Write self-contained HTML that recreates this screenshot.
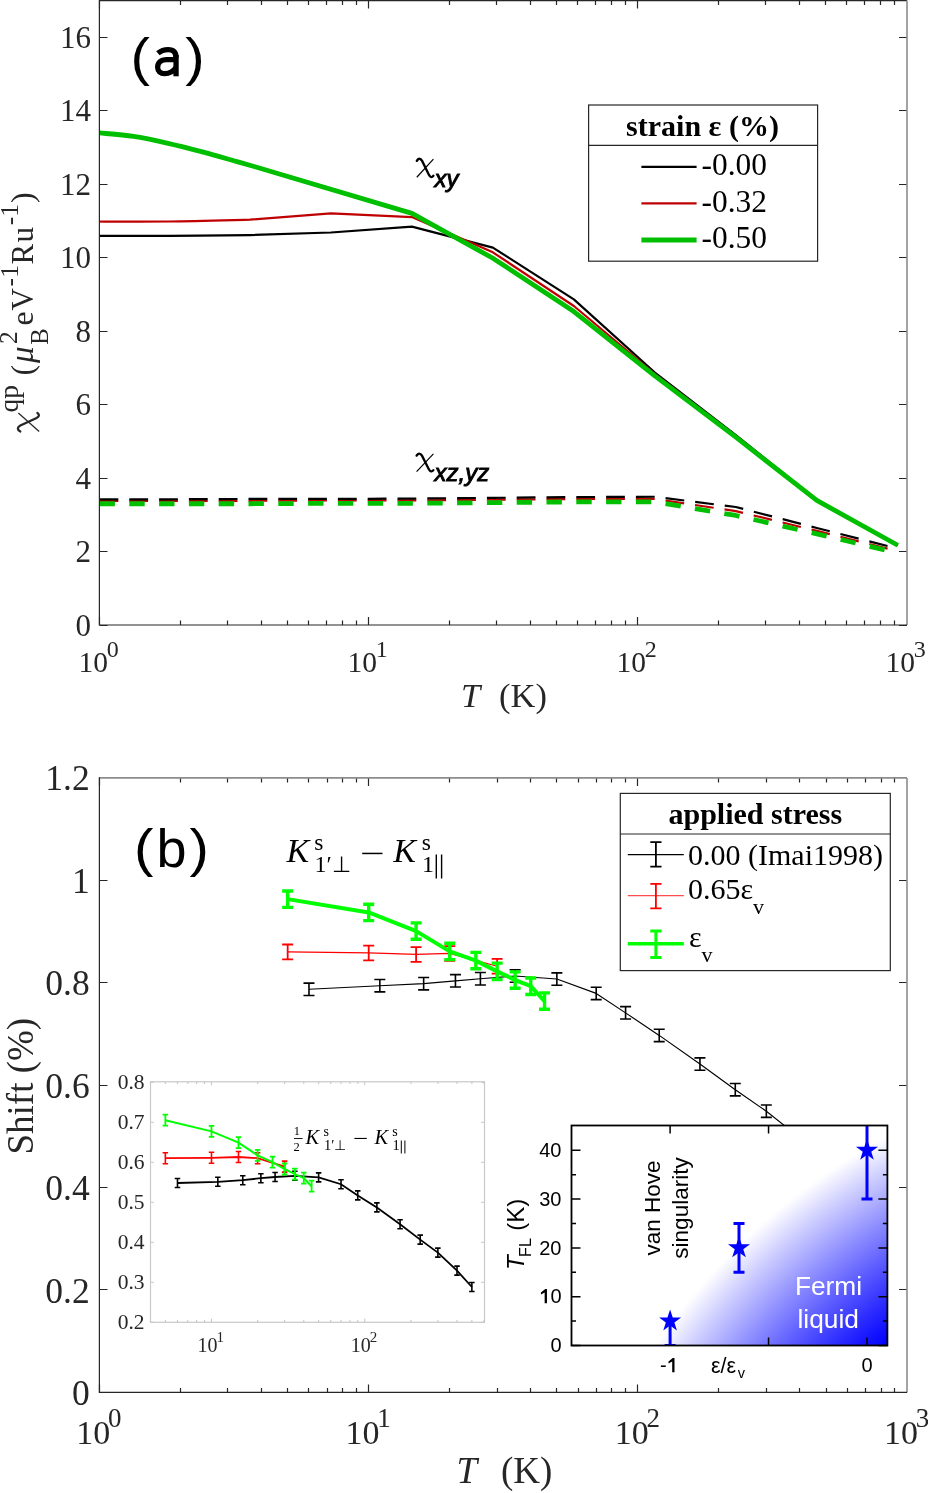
<!DOCTYPE html><html><head><meta charset="utf-8"><style>html,body{margin:0;padding:0;background:#fff;width:928px;height:1493px;overflow:hidden}svg{will-change:transform}</style></head><body><svg width="928" height="1493" viewBox="0 0 928 1493" style="display:block">
<defs>
<clipPath id="ca"><rect x="99.5" y="0.6" width="807.5" height="624.4"/></clipPath>
<clipPath id="cb"><rect x="99.5" y="777.9" width="807.5" height="614.5000000000001"/></clipPath>
<clipPath id="cr"><rect x="571.5" y="1125.5" width="315.9" height="220.0"/></clipPath>
<radialGradient id="gr" gradientUnits="userSpaceOnUse" cx="1194.1" cy="1709.3" r="650.3"><stop offset="0.7317" stop-color="rgb(0,0,255)"/><stop offset="0.7585" stop-color="rgb(20,20,255)"/><stop offset="0.7853" stop-color="rgb(43,43,255)"/><stop offset="0.8122" stop-color="rgb(68,68,255)"/><stop offset="0.8390" stop-color="rgb(93,93,255)"/><stop offset="0.8658" stop-color="rgb(119,119,255)"/><stop offset="0.8927" stop-color="rgb(145,145,255)"/><stop offset="0.9195" stop-color="rgb(172,172,255)"/><stop offset="0.9463" stop-color="rgb(199,199,255)"/><stop offset="0.9732" stop-color="rgb(227,227,255)"/><stop offset="1.0000" stop-color="rgb(255,255,255)"/></radialGradient>
</defs>
<rect width="928" height="1493" fill="#fff"/>
<g clip-path="url(#ca)" fill="none" stroke-linejoin="round">
<path d="M99.50,500.79L168.98,500.79L249.95,500.79L330.93,500.42L411.91,500.42L492.89,499.68L573.86,498.95L654.84,498.95L735.82,511.07L816.79,530.92L897.77,551.13" stroke="#bf0000" stroke-width="2.2" stroke-dasharray="18.8 11"/>
<path d="M99.50,503.73L168.98,503.73L249.95,503.73L330.93,503.36L411.91,503.36L492.89,502.62L573.86,501.89L654.84,501.89L735.82,515.49L816.79,533.86L897.77,552.97" stroke="#00bf00" stroke-width="4.8" stroke-dasharray="15.4 14.4"/>
<path d="M99.50,499.31L168.98,499.31L249.95,498.95L330.93,498.95L411.91,498.58L492.89,497.85L573.86,497.11L654.84,496.74L735.82,507.03L816.79,527.98L897.77,548.56" stroke="#000" stroke-width="2.2" stroke-dasharray="18.8 11"/>
<path d="M88.00,235.82C101.50,235.82 141.98,235.94 168.98,235.82C195.97,235.69 236.46,235.21 249.95,235.08L330.93,232.51L411.91,226.63L492.89,247.58L573.86,299.40L654.84,372.53L735.82,435.00L816.79,500.42L897.77,545.25" stroke="#000" stroke-width="2.2"/>
<path d="M88.00,221.48C101.50,221.48 141.98,221.79 168.98,221.48C195.97,221.18 236.46,219.95 249.95,219.65L330.93,213.40L411.91,217.07L492.89,252.35L573.86,306.01L654.84,374.00L735.82,436.47L816.79,500.42L897.77,545.25" stroke="#bf0000" stroke-width="2.2"/>
<path d="M86.00,131.90C88.25,132.07 91.58,132.15 99.50,132.90C107.42,133.65 122.08,134.67 133.50,136.40C144.92,138.13 156.52,140.72 168.00,143.30C179.48,145.88 190.90,148.85 202.40,151.90C213.90,154.95 228.23,159.13 237.00,161.60C245.77,164.07 252.00,165.85 255.00,166.70L411.91,213.40L492.89,258.23L573.86,311.52L654.84,375.83L735.82,437.21L816.79,500.42L897.77,545.25" stroke="#00bf00" stroke-width="4.8"/>
</g>
<path d="M99.50,625v-8M99.50,0.6v8M180.50,625v-4.5M180.50,0.6v4.5M227.50,625v-4.5M227.50,0.6v4.5M261.50,625v-4.5M261.50,0.6v4.5M287.50,625v-4.5M287.50,0.6v4.5M308.50,625v-4.5M308.50,0.6v4.5M326.50,625v-4.5M326.50,0.6v4.5M342.50,625v-4.5M342.50,0.6v4.5M356.50,625v-4.5M356.50,0.6v4.5M368.50,625v-8M368.50,0.6v8M449.50,625v-4.5M449.50,0.6v4.5M496.50,625v-4.5M496.50,0.6v4.5M530.50,625v-4.5M530.50,0.6v4.5M556.50,625v-4.5M556.50,0.6v4.5M577.50,625v-4.5M577.50,0.6v4.5M595.50,625v-4.5M595.50,0.6v4.5M611.50,625v-4.5M611.50,0.6v4.5M625.50,625v-4.5M625.50,0.6v4.5M637.50,625v-8M637.50,0.6v8M718.50,625v-4.5M718.50,0.6v4.5M765.50,625v-4.5M765.50,0.6v4.5M799.50,625v-4.5M799.50,0.6v4.5M825.50,625v-4.5M825.50,0.6v4.5M846.50,625v-4.5M846.50,0.6v4.5M864.50,625v-4.5M864.50,0.6v4.5M880.50,625v-4.5M880.50,0.6v4.5M894.50,625v-4.5M894.50,0.6v4.5M99.5,625.50h8M907,625.50h-8M99.5,551.50h8M907,551.50h-8M99.5,478.50h8M907,478.50h-8M99.5,404.50h8M907,404.50h-8M99.5,331.50h8M907,331.50h-8M99.5,257.50h8M907,257.50h-8M99.5,184.50h8M907,184.50h-8M99.5,110.50h8M907,110.50h-8M99.5,37.50h8M907,37.50h-8" stroke="#262626" stroke-width="1.2" fill="none"/>
<path d="M99.5,0.6H907" stroke="#262626" stroke-width="1.3"/>
<path d="M907,0.6V625" stroke="#8c8c8c" stroke-width="1.6"/>
<path d="M99.4,0.0V625H907" stroke="#262626" stroke-width="1.2" fill="none"/>
<text x="91" y="635.9" font-family="Liberation Serif" font-size="31" text-anchor="end" fill="#262626">0</text>
<text x="91" y="562.4" font-family="Liberation Serif" font-size="31" text-anchor="end" fill="#262626">2</text>
<text x="91" y="488.9" font-family="Liberation Serif" font-size="31" text-anchor="end" fill="#262626">4</text>
<text x="91" y="415.4" font-family="Liberation Serif" font-size="31" text-anchor="end" fill="#262626">6</text>
<text x="91" y="341.9" font-family="Liberation Serif" font-size="31" text-anchor="end" fill="#262626">8</text>
<text x="91" y="268.4" font-family="Liberation Serif" font-size="31" text-anchor="end" fill="#262626">10</text>
<text x="91" y="194.9" font-family="Liberation Serif" font-size="31" text-anchor="end" fill="#262626">12</text>
<text x="91" y="121.4" font-family="Liberation Serif" font-size="31" text-anchor="end" fill="#262626">14</text>
<text x="91" y="47.9" font-family="Liberation Serif" font-size="31" text-anchor="end" fill="#262626">16</text>
<text x="78.5" y="672" font-family="Liberation Serif" font-size="29.5" fill="#262626">10</text>
<text x="106.7" y="657" font-family="Liberation Serif" font-size="24" fill="#262626">0</text>
<text x="347.5" y="672" font-family="Liberation Serif" font-size="29.5" fill="#262626">10</text>
<text x="375.7" y="657" font-family="Liberation Serif" font-size="24" fill="#262626">1</text>
<text x="616.5" y="672" font-family="Liberation Serif" font-size="29.5" fill="#262626">10</text>
<text x="644.7" y="657" font-family="Liberation Serif" font-size="24" fill="#262626">2</text>
<text x="885.5" y="672" font-family="Liberation Serif" font-size="29.5" fill="#262626">10</text>
<text x="913.7" y="657" font-family="Liberation Serif" font-size="24" fill="#262626">3</text>
<text x="461" y="707" font-family="Liberation Serif" font-size="34.5" font-style="italic" fill="#262626">T</text>
<text x="499" y="707" font-family="Liberation Serif" font-size="34.5" fill="#262626">(K)</text>
<text font-family="Liberation Sans" font-size="52.5" fill="#000" transform="translate(130.4,74.7) scale(1.11,1)">(</text>
<text font-family="Liberation Sans" font-size="52.5" fill="#000" transform="translate(185.3,74.7) scale(1.11,1)">)</text>
<g fill="none" stroke="#000" stroke-width="5.3"><path d="M176.05,55V76.3"/><path d="M157.9,53.3C160.8,50.8 164.2,49.55 168.2,49.55C173.5,49.55 176.05,52 176.05,57.5"/><path d="M176.05,59.6H166.8C160.8,59.6 157.65,62.8 157.65,67.2C157.65,71.3 160.5,73.65 164.6,73.65C169.3,73.65 173.3,71.6 176.05,67.5"/></g>
<path d="M416.80,160.88C418.13,158.22 420.45,157.84 422.11,160.88L428.75,174.56C430.08,177.22 431.74,177.98 433.40,175.70" stroke="#000" stroke-width="2.3" fill="none" stroke-linecap="round"/><path d="M433.40,159.17L416.80,177.22" stroke="#000" stroke-width="1.2" fill="none"/>
<text x="434.5" y="187" font-family="Liberation Sans" font-size="24" font-style="italic" fill="#000" stroke="#000" stroke-width="0.9">xy</text>
<path d="M416.60,455.63C417.94,453.03 420.30,452.66 421.98,455.63L428.70,469.02C430.04,471.63 431.72,472.37 433.40,470.14" stroke="#000" stroke-width="2.3" fill="none" stroke-linecap="round"/><path d="M433.40,453.96L416.60,471.63" stroke="#000" stroke-width="1.2" fill="none"/>
<text x="434.5" y="481" font-family="Liberation Sans" font-size="24" font-style="italic" fill="#000" stroke="#000" stroke-width="0.9">xz,yz</text>
<g transform="translate(33,432) rotate(-90)" fill="#262626">
<path d="M0.50,-12.67C1.98,-15.74 4.57,-16.18 6.42,-12.67L13.82,3.10C15.30,6.16 17.15,7.04 19.00,4.41" stroke="#262626" stroke-width="2.3" fill="none" stroke-linecap="round"/><path d="M19.00,-14.64L0.50,6.16" stroke="#262626" stroke-width="1.2" fill="none"/>
<text x="19.5" y="-15.5" font-family="Liberation Serif" font-size="27.5">qp</text>
<text x="56.5" y="0" font-family="Liberation Serif" font-size="32">(</text>
<text x="69" y="0" font-family="Liberation Serif" font-size="33" font-style="italic">μ</text>
<text x="88" y="-16" font-family="Liberation Serif" font-size="25.5">2</text>
<text x="87.3" y="14.7" font-family="Liberation Serif" font-size="24.5">B</text>
<text x="106.5" y="0" font-family="Liberation Serif" font-size="32">e</text>
<text x="121.5" y="0" font-family="Liberation Serif" font-size="31">V</text>
<text x="145.6" y="-15.4" font-family="Liberation Serif" font-size="25">-</text>
<text x="154.2" y="-15.4" font-family="Liberation Serif" font-size="25.5">1</text>
<text x="167.5" y="0" font-family="Liberation Serif" font-size="31">R</text>
<text x="189.5" y="0" font-family="Liberation Serif" font-size="31">u</text>
<text x="206.8" y="-15.4" font-family="Liberation Serif" font-size="25">-</text>
<text x="215.3" y="-15.4" font-family="Liberation Serif" font-size="25.5">1</text>
<text x="229" y="0" font-family="Liberation Serif" font-size="32">)</text>
</g>
<rect x="588.6" y="105" width="229" height="156.2" fill="#fff" stroke="#262626" stroke-width="1.2"/>
<line x1="588.6" y1="145.4" x2="817.6" y2="145.4" stroke="#262626" stroke-width="1.2"/>
<text x="702.5" y="136" font-family="Liberation Serif" font-size="30" font-weight="bold" text-anchor="middle" fill="#000">strain ε (%)</text>
<line x1="641.4" y1="166.9" x2="696.6" y2="166.9" stroke="#000" stroke-width="2.2"/>
<text x="701.5" y="175.2" font-family="Liberation Serif" font-size="31.4" fill="#000">-0.00</text>
<line x1="641.4" y1="203.4" x2="696.6" y2="203.4" stroke="#bf0000" stroke-width="2.2"/>
<text x="701.5" y="211.8" font-family="Liberation Serif" font-size="31.4" fill="#000">-0.32</text>
<line x1="641.4" y1="240.0" x2="696.6" y2="240.0" stroke="#00bf00" stroke-width="4.8"/>
<text x="701.5" y="248.3" font-family="Liberation Serif" font-size="31.4" fill="#000">-0.50</text>
<g clip-path="url(#cb)" fill="none" stroke-linejoin="round">
<polyline points="308.98,989.30 379.84,985.71 423.65,983.66 455.44,980.85 480.41,978.75 515.16,975.98 556.86,979.05 596.20,993.40 625.58,1012.86 659.22,1035.40 699.94,1064.08 735.28,1089.69 766.34,1111.20 799.97,1137.84 826.06,1164.47" stroke="#000" stroke-width="1.15"/>
<path d="M308.98,983.10V995.50M303.48,983.10h11M303.48,995.50h11M379.84,979.51V991.91M374.34,979.51h11M374.34,991.91h11M423.65,977.46V989.86M418.15,977.46h11M418.15,989.86h11M455.44,974.65V987.05M449.94,974.65h11M449.94,987.05h11M480.41,972.55V984.95M474.91,972.55h11M474.91,984.95h11M515.16,969.78V982.18M509.66,969.78h11M509.66,982.18h11M556.86,972.85V985.25M551.36,972.85h11M551.36,985.25h11M596.20,987.20V999.60M590.70,987.20h11M590.70,999.60h11M625.58,1006.66V1019.06M620.08,1006.66h11M620.08,1019.06h11M659.22,1029.20V1041.60M653.72,1029.20h11M653.72,1041.60h11M699.94,1057.88V1070.28M694.44,1057.88h11M694.44,1070.28h11M735.28,1083.49V1095.89M729.78,1083.49h11M729.78,1095.89h11M766.34,1105.00V1117.40M760.84,1105.00h11M760.84,1117.40h11M799.97,1131.64V1144.04M794.47,1131.64h11M794.47,1144.04h11M826.06,1158.27V1170.67M820.56,1158.27h11M820.56,1170.67h11" stroke="#000" stroke-width="1.6" fill="none"/>
<polyline points="287.66,951.91 368.70,952.93 416.10,954.47 449.74,953.44 497.14,966.25" stroke="#ff0000" stroke-width="1.2"/>
<path d="M287.66,944.51V959.31M282.16,944.51h11M282.16,959.31h11M368.70,945.53V960.33M363.20,945.53h11M363.20,960.33h11M416.10,947.07V961.87M410.60,947.07h11M410.60,961.87h11M449.74,946.04V960.84M444.24,946.04h11M444.24,960.84h11M497.14,958.85V973.65M491.64,958.85h11M491.64,973.65h11" stroke="#ff0000" stroke-width="1.8" fill="none"/>
<polyline points="287.66,899.15 368.70,912.47 416.10,931.11 449.74,951.40 475.83,960.62 497.14,971.37 515.16,980.08 530.77,986.23 544.54,1001.08" stroke="#00ff00" stroke-width="4"/>
<path d="M287.66,890.95V907.35M282.16,890.95h11M282.16,907.35h11M368.70,904.27V920.67M363.20,904.27h11M363.20,920.67h11M416.10,922.91V939.31M410.60,922.91h11M410.60,939.31h11M449.74,943.20V959.60M444.24,943.20h11M444.24,959.60h11M475.83,952.42V968.82M470.33,952.42h11M470.33,968.82h11M497.14,963.17V979.57M491.64,963.17h11M491.64,979.57h11M515.16,971.88V988.28M509.66,971.88h11M509.66,988.28h11M530.77,978.03V994.43M525.27,978.03h11M525.27,994.43h11M544.54,992.88V1009.28M539.04,992.88h11M539.04,1009.28h11" stroke="#00ff00" stroke-width="3.4" fill="none"/>
</g>
<path d="M99.50,1392.4v-8M99.50,777.9v8M180.50,1392.4v-4.5M180.50,777.9v4.5M227.50,1392.4v-4.5M227.50,777.9v4.5M261.50,1392.4v-4.5M261.50,777.9v4.5M287.50,1392.4v-4.5M287.50,777.9v4.5M308.50,1392.4v-4.5M308.50,777.9v4.5M327.50,1392.4v-4.5M327.50,777.9v4.5M342.50,1392.4v-4.5M342.50,777.9v4.5M356.50,1392.4v-4.5M356.50,777.9v4.5M368.50,1392.4v-8M368.50,777.9v8M449.50,1392.4v-4.5M449.50,777.9v4.5M497.50,1392.4v-4.5M497.50,777.9v4.5M530.50,1392.4v-4.5M530.50,777.9v4.5M556.50,1392.4v-4.5M556.50,777.9v4.5M578.50,1392.4v-4.5M578.50,777.9v4.5M596.50,1392.4v-4.5M596.50,777.9v4.5M611.50,1392.4v-4.5M611.50,777.9v4.5M625.50,1392.4v-4.5M625.50,777.9v4.5M637.50,1392.4v-8M637.50,777.9v8M718.50,1392.4v-4.5M718.50,777.9v4.5M766.50,1392.4v-4.5M766.50,777.9v4.5M799.50,1392.4v-4.5M799.50,777.9v4.5M826.50,1392.4v-4.5M826.50,777.9v4.5M847.50,1392.4v-4.5M847.50,777.9v4.5M865.50,1392.4v-4.5M865.50,777.9v4.5M881.50,1392.4v-4.5M881.50,777.9v4.5M894.50,1392.4v-4.5M894.50,777.9v4.5M99.5,1392.50h8M907,1392.50h-8M99.5,1289.50h8M907,1289.50h-8M99.5,1187.50h8M907,1187.50h-8M99.5,1085.50h8M907,1085.50h-8M99.5,982.50h8M907,982.50h-8M99.5,880.50h8M907,880.50h-8M99.5,777.50h8M907,777.50h-8" stroke="#262626" stroke-width="1.2" fill="none"/>
<path d="M99.5,777.9H907" stroke="#8c8c8c" stroke-width="1.6"/>
<path d="M907,777.9V1392.4" stroke="#8c8c8c" stroke-width="1.6"/>
<path d="M99.4,777.3V1392.4H907" stroke="#262626" stroke-width="1.2" fill="none"/>
<text x="89.7" y="1405.0" font-family="Liberation Serif" font-size="35.5" text-anchor="end" fill="#262626">0</text>
<text x="89.7" y="1302.6" font-family="Liberation Serif" font-size="35.5" text-anchor="end" fill="#262626">0.2</text>
<text x="89.7" y="1200.1" font-family="Liberation Serif" font-size="35.5" text-anchor="end" fill="#262626">0.4</text>
<text x="89.7" y="1097.7" font-family="Liberation Serif" font-size="35.5" text-anchor="end" fill="#262626">0.6</text>
<text x="89.7" y="995.2" font-family="Liberation Serif" font-size="35.5" text-anchor="end" fill="#262626">0.8</text>
<text x="89.7" y="892.8" font-family="Liberation Serif" font-size="35.5" text-anchor="end" fill="#262626">1</text>
<text x="89.7" y="790.4" font-family="Liberation Serif" font-size="35.5" text-anchor="end" fill="#262626">1.2</text>
<text x="76.3" y="1444.2" font-family="Liberation Serif" font-size="34" fill="#262626">10</text>
<text x="108.1" y="1427.2" font-family="Liberation Serif" font-size="27" fill="#262626">0</text>
<text x="345.5" y="1444.2" font-family="Liberation Serif" font-size="34" fill="#262626">10</text>
<text x="377.3" y="1427.2" font-family="Liberation Serif" font-size="27" fill="#262626">1</text>
<text x="614.7" y="1444.2" font-family="Liberation Serif" font-size="34" fill="#262626">10</text>
<text x="646.5" y="1427.2" font-family="Liberation Serif" font-size="27" fill="#262626">2</text>
<text x="883.9" y="1444.2" font-family="Liberation Serif" font-size="34" fill="#262626">10</text>
<text x="915.7" y="1427.2" font-family="Liberation Serif" font-size="27" fill="#262626">3</text>
<text x="456.5" y="1483" font-family="Liberation Serif" font-size="37" font-style="italic" fill="#262626">T</text>
<text x="501" y="1483" font-family="Liberation Serif" font-size="37" fill="#262626">(K)</text>
<text font-family="Liberation Sans" font-size="52.5" fill="#000" transform="translate(134,866.1) scale(1.11,1)">(</text>
<text font-family="Liberation Sans" font-size="52.5" fill="#000" transform="translate(189.6,866.1) scale(1.11,1)">)</text>
<text x="156.4" y="867.2" font-family="Liberation Sans" font-size="54" fill="#000">b</text>
<g transform="translate(33,1154.5) rotate(-90)"><text font-family="Liberation Serif" font-size="37" fill="#262626">Shift (%)</text></g>
<text x="286.6" y="861.6" font-family="Liberation Serif" font-size="34" font-style="italic" fill="#000">K</text>
<text x="314.3" y="850.2" font-family="Liberation Serif" font-size="23.5" fill="#000">s</text>
<text x="314.6" y="871.7" font-family="Liberation Serif" font-size="24" fill="#000">1′</text>
<text x="331.6" y="871.7" font-family="Liberation Serif" font-size="22" fill="#000">⊥</text>
<rect x="362.2" y="852.7" width="20.3" height="1.5" fill="#000"/>
<text x="393.3" y="861.6" font-family="Liberation Serif" font-size="34" font-style="italic" fill="#000">K</text>
<text x="421.8" y="850.2" font-family="Liberation Serif" font-size="23.5" fill="#000">s</text>
<text x="421.9" y="871.7" font-family="Liberation Serif" font-size="24" fill="#000">1</text>
<path d="M436.3,854.5V878.6M441.6,854.5V878.6" stroke="#000" stroke-width="1.4"/>
<rect x="620.3" y="793.4" width="270" height="177.2" fill="#fff" stroke="#262626" stroke-width="1.2"/>
<line x1="620.3" y1="834" x2="890.3" y2="834" stroke="#262626" stroke-width="1.2"/>
<text x="755.3" y="823.8" font-family="Liberation Serif" font-size="30" font-weight="bold" text-anchor="middle" fill="#000">applied stress</text>
<line x1="627.8" y1="854.7" x2="683.8" y2="854.7" stroke="#000" stroke-width="1.3"/>
<path d="M655.9,842.1V866.7M650.3,842.1h11.2M650.3,866.7h11.2" stroke="#000" stroke-width="1.8" fill="none"/>
<text x="688" y="865.3" font-family="Liberation Serif" font-size="30" fill="#000">0.00 (Imai1998)</text>
<line x1="627.8" y1="895.7" x2="683.8" y2="895.7" stroke="#ff0000" stroke-width="1.2" stroke-opacity="0.7"/>
<path d="M655.9,883.8V908.4M650.3,883.8h11.2M650.3,908.4h11.2" stroke="#ff0000" stroke-width="1.8" fill="none"/>
<text x="688" y="899.3" font-family="Liberation Serif" font-size="30" fill="#000">0.65ε<tspan font-size="22" dy="14.3">v</tspan></text>
<line x1="627.8" y1="943.8" x2="683.8" y2="943.8" stroke="#00ff00" stroke-width="3.6"/>
<path d="M655.9,930.9V957.6M650.3,930.9h11.2M650.3,957.6h11.2" stroke="#00ff00" stroke-width="3" fill="none"/>
<text x="689" y="947.2" font-family="Liberation Serif" font-size="30" fill="#000">ε<tspan font-size="22" dy="14.5">v</tspan></text>
<rect x="150.5" y="1081.8" width="334.0" height="240.5" fill="#fff" stroke="#c8c8c8" stroke-width="1.2"/>
<path d="M150.50,1322.3v-2.3M150.50,1081.8v2.3M165.35,1322.3v-2.3M165.35,1081.8v2.3M177.49,1322.3v-2.3M177.49,1081.8v2.3M187.75,1322.3v-2.3M187.75,1081.8v2.3M196.64,1322.3v-2.3M196.64,1081.8v2.3M204.48,1322.3v-2.3M204.48,1081.8v2.3M211.49,1322.3v-3.5M211.49,1081.8v3.5M257.62,1322.3v-2.3M257.62,1081.8v2.3M284.61,1322.3v-2.3M284.61,1081.8v2.3M303.76,1322.3v-2.3M303.76,1081.8v2.3M318.61,1322.3v-2.3M318.61,1081.8v2.3M330.75,1322.3v-2.3M330.75,1081.8v2.3M341.01,1322.3v-2.3M341.01,1081.8v2.3M349.90,1322.3v-2.3M349.90,1081.8v2.3M357.74,1322.3v-2.3M357.74,1081.8v2.3M364.75,1322.3v-3.5M364.75,1081.8v3.5M410.88,1322.3v-2.3M410.88,1081.8v2.3M437.87,1322.3v-2.3M437.87,1081.8v2.3M457.02,1322.3v-2.3M457.02,1081.8v2.3M471.87,1322.3v-2.3M471.87,1081.8v2.3M484.01,1322.3v-2.3M484.01,1081.8v2.3M150.5,1322.20h3.5M484.5,1322.20h-3.5M150.5,1282.20h3.5M484.5,1282.20h-3.5M150.5,1242.20h3.5M484.5,1242.20h-3.5M150.5,1202.20h3.5M484.5,1202.20h-3.5M150.5,1162.20h3.5M484.5,1162.20h-3.5M150.5,1122.20h3.5M484.5,1122.20h-3.5M150.5,1082.20h3.5M484.5,1082.20h-3.5" stroke="#c8c8c8" stroke-width="1.1" fill="none"/>
<text x="144.5" y="1329.2" font-family="Liberation Serif" font-size="21.5" text-anchor="end" fill="#262626">0.2</text>
<text x="144.5" y="1289.2" font-family="Liberation Serif" font-size="21.5" text-anchor="end" fill="#262626">0.3</text>
<text x="144.5" y="1249.2" font-family="Liberation Serif" font-size="21.5" text-anchor="end" fill="#262626">0.4</text>
<text x="144.5" y="1209.2" font-family="Liberation Serif" font-size="21.5" text-anchor="end" fill="#262626">0.5</text>
<text x="144.5" y="1169.2" font-family="Liberation Serif" font-size="21.5" text-anchor="end" fill="#262626">0.6</text>
<text x="144.5" y="1129.2" font-family="Liberation Serif" font-size="21.5" text-anchor="end" fill="#262626">0.7</text>
<text x="144.5" y="1089.2" font-family="Liberation Serif" font-size="21.5" text-anchor="end" fill="#262626">0.8</text>
<text x="197.5" y="1352.2" font-family="Liberation Serif" font-size="20" fill="#262626">10</text>
<text x="216.5" y="1342" font-family="Liberation Serif" font-size="15" fill="#262626">1</text>
<text x="350.7" y="1352.2" font-family="Liberation Serif" font-size="20" fill="#262626">10</text>
<text x="369.7" y="1342" font-family="Liberation Serif" font-size="15" fill="#262626">2</text>
<polyline points="177.49,1183.00 217.83,1181.80 242.77,1180.20 260.87,1178.20 275.09,1177.00 294.87,1175.80 318.61,1177.40 341.01,1184.20 357.74,1195.40 376.88,1207.40 400.07,1224.20 420.19,1239.60 437.87,1252.60 457.02,1270.60 471.87,1287.00" stroke="#000" stroke-width="1.8" fill="none"/>
<path d="M177.49,1178.50V1187.50M174.74,1178.50h5.5M174.74,1187.50h5.5M217.83,1177.30V1186.30M215.08,1177.30h5.5M215.08,1186.30h5.5M242.77,1175.70V1184.70M240.02,1175.70h5.5M240.02,1184.70h5.5M260.87,1173.70V1182.70M258.12,1173.70h5.5M258.12,1182.70h5.5M275.09,1172.50V1181.50M272.34,1172.50h5.5M272.34,1181.50h5.5M294.87,1171.30V1180.30M292.12,1171.30h5.5M292.12,1180.30h5.5M318.61,1172.90V1181.90M315.86,1172.90h5.5M315.86,1181.90h5.5M341.01,1179.70V1188.70M338.26,1179.70h5.5M338.26,1188.70h5.5M357.74,1190.90V1199.90M354.99,1190.90h5.5M354.99,1199.90h5.5M376.88,1202.90V1211.90M374.13,1202.90h5.5M374.13,1211.90h5.5M400.07,1219.70V1228.70M397.32,1219.70h5.5M397.32,1228.70h5.5M420.19,1235.10V1244.10M417.44,1235.10h5.5M417.44,1244.10h5.5M437.87,1248.10V1257.10M435.12,1248.10h5.5M435.12,1257.10h5.5M457.02,1266.10V1275.10M454.27,1266.10h5.5M454.27,1275.10h5.5M471.87,1282.50V1291.50M469.12,1282.50h5.5M469.12,1291.50h5.5" stroke="#000" stroke-width="1.6" fill="none"/>
<polyline points="165.35,1158.20 211.49,1157.80 238.48,1157.00 257.62,1158.20 284.61,1166.60" stroke="#ff0000" stroke-width="1.8" fill="none"/>
<path d="M165.35,1152.70V1163.70M162.60,1152.70h5.5M162.60,1163.70h5.5M211.49,1152.30V1163.30M208.74,1152.30h5.5M208.74,1163.30h5.5M238.48,1151.50V1162.50M235.73,1151.50h5.5M235.73,1162.50h5.5M257.62,1152.70V1163.70M254.87,1152.70h5.5M254.87,1163.70h5.5M284.61,1161.10V1172.10M281.86,1161.10h5.5M281.86,1172.10h5.5" stroke="#ff0000" stroke-width="1.6" fill="none"/>
<polyline points="165.35,1120.20 211.49,1131.40 238.48,1142.60 257.62,1155.40 272.48,1162.20 284.61,1169.00 294.87,1174.20 303.76,1178.20 311.60,1186.20" stroke="#00ff00" stroke-width="2" fill="none"/>
<path d="M165.35,1114.70V1125.70M162.60,1114.70h5.5M162.60,1125.70h5.5M211.49,1125.90V1136.90M208.74,1125.90h5.5M208.74,1136.90h5.5M238.48,1137.10V1148.10M235.73,1137.10h5.5M235.73,1148.10h5.5M257.62,1149.90V1160.90M254.87,1149.90h5.5M254.87,1160.90h5.5M272.48,1156.70V1167.70M269.73,1156.70h5.5M269.73,1167.70h5.5M284.61,1163.50V1174.50M281.86,1163.50h5.5M281.86,1174.50h5.5M294.87,1168.70V1179.70M292.12,1168.70h5.5M292.12,1179.70h5.5M303.76,1172.70V1183.70M301.01,1172.70h5.5M301.01,1183.70h5.5M311.60,1180.70V1191.70M308.85,1180.70h5.5M308.85,1191.70h5.5" stroke="#00ff00" stroke-width="1.8" fill="none"/>
<text x="293.8" y="1134.8" font-family="Liberation Serif" font-size="12.5" fill="#000">1</text>
<text x="293.6" y="1150.7" font-family="Liberation Serif" font-size="12.5" fill="#000">2</text>
<rect x="294" y="1138" width="8.6" height="0.9" fill="#000"/>
<text x="305.6" y="1143.6" font-family="Liberation Serif" font-size="20.5" font-style="italic" fill="#000">K</text>
<text x="323.6" y="1136.2" font-family="Liberation Serif" font-size="14" fill="#000">s</text>
<text x="323.9" y="1149.7" font-family="Liberation Serif" font-size="14.5" fill="#000">1′</text>
<text x="334" y="1149.7" font-family="Liberation Serif" font-size="13.5" fill="#000">⊥</text>
<rect x="354.4" y="1137.9" width="12.4" height="1.1" fill="#000"/>
<text x="374.4" y="1143.6" font-family="Liberation Serif" font-size="20.5" font-style="italic" fill="#000">K</text>
<text x="392.3" y="1136.2" font-family="Liberation Serif" font-size="14" fill="#000">s</text>
<text x="392.6" y="1149.7" font-family="Liberation Serif" font-size="14.5" fill="#000">1</text>
<path d="M401.3,1140.5V1153.5M404.9,1140.5V1153.5" stroke="#000" stroke-width="1"/>
<rect x="571.5" y="1125.5" width="315.9" height="220.0" fill="#fff"/>
<rect x="571.5" y="1125.5" width="315.9" height="220.0" fill="url(#gr)"/>
<text font-family="Liberation Sans" font-size="22.5" fill="#000" transform="translate(660,1208) rotate(-90)" text-anchor="middle">van Hove</text>
<text font-family="Liberation Sans" font-size="22.5" fill="#000" transform="translate(688,1208) rotate(-90)" text-anchor="middle">singularity</text>
<text x="828.5" y="1295.3" font-family="Liberation Sans" font-size="26.3" fill="#fff" text-anchor="middle">Fermi</text>
<text x="828.2" y="1327.9" font-family="Liberation Sans" font-size="26.3" fill="#fff" text-anchor="middle">liquid</text>
<path d="M571.5,1345.50h9M887.4,1345.50h-9M571.5,1321.10h4.5M887.4,1321.10h-4.5M571.5,1296.70h9M887.4,1296.70h-9M571.5,1272.30h4.5M887.4,1272.30h-4.5M571.5,1247.90h9M887.4,1247.90h-9M571.5,1223.50h4.5M887.4,1223.50h-4.5M571.5,1199.10h9M887.4,1199.10h-9M571.5,1174.70h4.5M887.4,1174.70h-4.5M571.5,1150.30h9M887.4,1150.30h-9M670.10,1345.5v-8M670.10,1125.5v8M768.55,1345.5v-8M768.55,1125.5v8M867.00,1345.5v-8M867.00,1125.5v8" stroke="#000" stroke-width="1.5" fill="none"/>
<g clip-path="url(#cr)">
<path d="M670.1,1321.1V1345.5M664.6,1345.5h11 M739.0,1272.3V1223.5M733.5,1272.3h11M733.5,1223.5h11 M867.0,1199.1V1101.5M861.5,1199.1h11" stroke="#00f" stroke-width="3" fill="none"/>
<polygon points="670.10,1309.50 672.75,1317.46 681.13,1317.52 674.38,1322.49 676.92,1330.48 670.10,1325.60 663.28,1330.48 665.82,1322.49 659.07,1317.52 667.45,1317.46" fill="#00f"/>
<polygon points="739.01,1236.30 741.66,1244.26 750.05,1244.32 743.29,1249.29 745.83,1257.28 739.01,1252.40 732.20,1257.28 734.74,1249.29 727.98,1244.32 736.37,1244.26" fill="#00f"/>
<polygon points="867.00,1138.70 869.65,1146.66 878.03,1146.72 871.28,1151.69 873.82,1159.68 867.00,1154.80 860.18,1159.68 862.72,1151.69 855.97,1146.72 864.35,1146.66" fill="#00f"/>
</g>
<rect x="571.5" y="1125.5" width="315.9" height="220.0" fill="none" stroke="#000" stroke-width="1.8"/>
<text x="561.5" y="1352.1" font-family="Liberation Sans" font-size="20" text-anchor="end" fill="#000">0</text>
<text x="561.5" y="1303.3" font-family="Liberation Sans" font-size="20" text-anchor="end" fill="#000">0</text>
<path d="M546.96,1303.30 L544.66,1303.30 L544.66,1292.40 L540.96,1294.50 L540.96,1292.50 L545.26,1288.98 L546.96,1288.98Z" fill="#000"/>
<text x="561.5" y="1254.5" font-family="Liberation Sans" font-size="20" text-anchor="end" fill="#000">20</text>
<text x="561.5" y="1205.7" font-family="Liberation Sans" font-size="20" text-anchor="end" fill="#000">30</text>
<text x="561.5" y="1156.9" font-family="Liberation Sans" font-size="20" text-anchor="end" fill="#000">40</text>
<text x="660.1" y="1372.3" font-family="Liberation Sans" font-size="20" fill="#000">-</text>
<path d="M674.50,1372.30 L672.20,1372.30 L672.20,1361.40 L668.50,1363.50 L668.50,1361.50 L672.80,1357.98 L674.50,1357.98Z" fill="#000"/>
<text x="867" y="1372.3" font-family="Liberation Sans" font-size="20" text-anchor="middle" fill="#000">0</text>
<text x="711" y="1373" font-family="Liberation Sans" font-size="21.5" fill="#000">ε/ε<tspan font-size="14.5" dx="1.5" dy="5">v</tspan></text>
<g transform="translate(523.9,1269.1) rotate(-90)" fill="#000"><text x="-1" y="0" font-family="Liberation Sans" font-size="24" font-style="italic">T</text><text x="12.2" y="6.8" font-family="Liberation Sans" font-size="16.3">FL</text><text x="38.3" y="0" font-family="Liberation Sans" font-size="24">(K)</text></g>
</svg></body></html>
